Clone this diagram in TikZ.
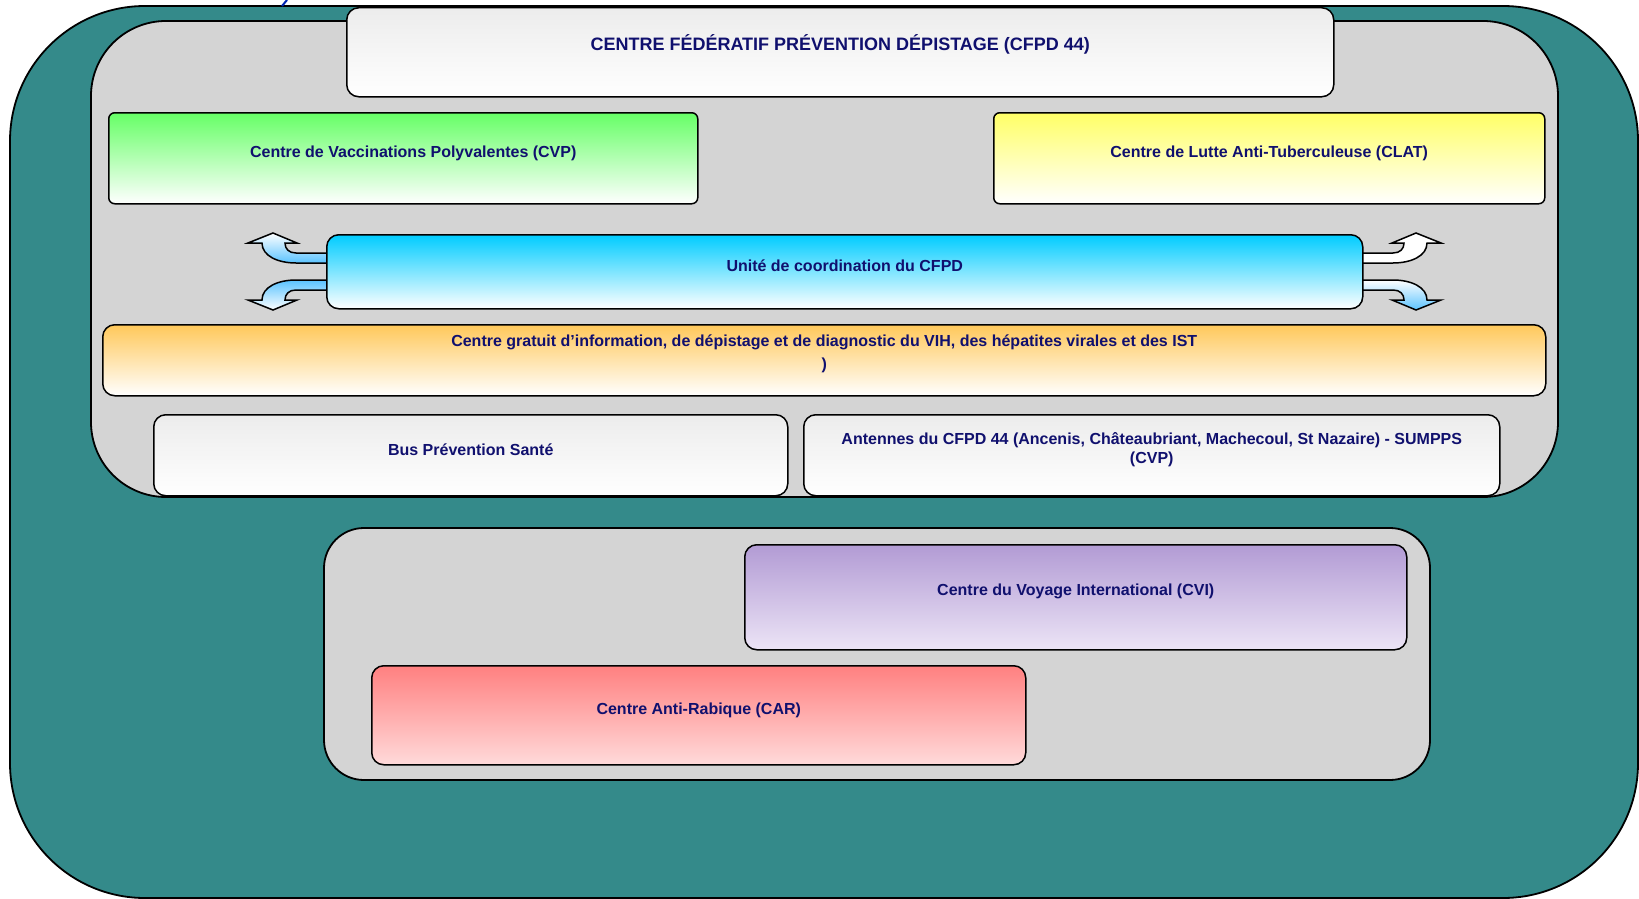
\documentclass[tikz,border=0pt]{standalone}
\usepackage{fontspec}
\setmainfont{Liberation Sans}
\definecolor{tealbg}{RGB}{52,138,138}
\definecolor{panelgray}{RGB}{212,212,212}
\definecolor{navytxt}{RGB}{16,16,110}
\definecolor{arrowblue}{RGB}{90,195,255}
\definecolor{cvpgreen}{RGB}{102,255,102}
\definecolor{clatyellow}{RGB}{255,255,102}
\definecolor{unitecyan}{RGB}{0,204,255}
\definecolor{cegorange}{RGB}{255,200,90}
\definecolor{cvipurple}{RGB}{178,155,212}
\definecolor{cvilight}{RGB}{236,228,246}
\definecolor{carred}{RGB}{255,128,128}
\definecolor{carlight}{RGB}{255,218,218}
\definecolor{boxgray}{RGB}{236,236,236}
\tikzset{
  box/.style={draw=black, line width=1.5pt, rounded corners=12pt, anchor=north west, inner sep=0pt},
  lbl/.style={text=navytxt, font=\bfseries\fontsize{16}{19}\selectfont, align=center, inner sep=0pt},
  bigpanel/.style={draw=black, line width=1.8pt},
  bent/.style={draw=black, line width=1.5pt},
}
\newcommand\bentpath{(-514,-18.5) -- (-548.5,-18.5) .. controls (-555.5,-18.5) and (-559.5,-22.5) .. (-559.5,-28.5) -- (-547.5,-28.5) -- (-571.5,-38.5) -- (-596.5,-28.5) -- (-582.5,-28.5) .. controls (-582.5,-15.5) and (-566.5,-8.5) .. (-548.5,-8.5) -- (-514,-8.5) -- cycle}
\begin{document}
\begin{tikzpicture}[x=1pt,y=-1pt]
\useasboundingbox (0,0) rectangle (1639,899);
\begin{scope}
\clip (0,0) rectangle (1639,899);
\draw[bigpanel, fill=tealbg, rounded corners=135pt] (10,6) rectangle (1638,898);
\draw[blue!80!cyan!70!black, line width=2pt] (282,6) -- (287,0);
\end{scope}
% panels
\draw[bigpanel, fill=panelgray, rounded corners=75pt] (91,21) rectangle (1558,497);
\draw[bigpanel, fill=panelgray, rounded corners=40pt] (324,528) rectangle (1430,780);
% title
\node[box, top color=boxgray, bottom color=white, minimum width=987pt, minimum height=89pt] (title) at (346,7) {};
\node[lbl, font=\bfseries\fontsize{18}{21}\selectfont] (title-t) at ([yshift=8pt]title.center) {CENTRE FÉDÉRATIF PRÉVENTION DÉPISTAGE (CFPD 44)};
% CVP
\node[box, rounded corners=6pt, top color=cvpgreen, bottom color=white, minimum width=589pt, minimum height=91pt] (cvp) at (108,112) {};
\node[lbl] (cvp-t) at ([yshift=5pt,xshift=10pt]cvp.center) {Centre de Vaccinations Polyvalentes (CVP)};
% CLAT
\node[box, rounded corners=6pt, top color=clatyellow, bottom color=white, minimum width=551pt, minimum height=91pt] (clat) at (993,112) {};
\node[lbl] (clat-t) at ([yshift=5pt]clat.center) {Centre de Lutte Anti-Tuberculeuse (CLAT)};
% bent arrows
\begin{scope}[shift={(844.5,271.5)}]
  \path[bent, top color=white, bottom color=arrowblue] \bentpath;
  \begin{scope}[yscale=-1]
    \path[bent, top color=arrowblue, bottom color=white] \bentpath;
  \end{scope}
  \begin{scope}[xscale=-1]
    \path[bent, top color=white, middle color=arrowblue!80, bottom color=white] \bentpath;
  \end{scope}
  \begin{scope}[xscale=-1, yscale=-1]
    \path[bent, top color=white, bottom color=arrowblue] \bentpath;
  \end{scope}
\end{scope}
% Unite
\node[box, top color=unitecyan, bottom color=white, minimum width=1036pt, minimum height=74pt] (unite) at (326,234) {};
\node[lbl] (unite-t) at ([yshift=6pt]unite.center) {Unité de coordination du CFPD};
% Centre gratuit
\node[box, top color=cegorange, bottom color=white, minimum width=1443pt, minimum height=71pt] (ceg) at (102,324) {};
\node[lbl, font=\bfseries\fontsize{16}{23}\selectfont] (ceg-t) at ([yshift=6pt]ceg.center) {Centre gratuit d’information, de dépistage et de diagnostic du VIH, des hépatites virales et des IST\\)};
% Bus
\node[box, top color=boxgray, bottom color=white, minimum width=634pt, minimum height=81pt] (bus) at (153,414) {};
\node[lbl] (bus-t) at ([yshift=6pt]bus.center) {Bus Prévention Santé};
% Antennes
\node[box, top color=boxgray, bottom color=white, minimum width=696pt, minimum height=81pt] (ant) at (803,414) {};
\node[lbl] (ant-t) at ([yshift=6pt]ant.center) {Antennes du CFPD 44 (Ancenis, Châteaubriant, Machecoul, St Nazaire) - SUMPPS\\(CVP)};
% CVI
\node[box, top color=cvipurple, bottom color=cvilight, minimum width=662pt, minimum height=105pt] (cvi) at (744,544) {};
\node[lbl] (cvi-t) at ([yshift=6pt]cvi.center) {Centre du Voyage International (CVI)};
% CAR
\node[box, top color=carred, bottom color=carlight, minimum width=654pt, minimum height=99pt] (car) at (371,665) {};
\node[lbl] (car-t) at ([yshift=5pt]car.center) {Centre Anti-Rabique (CAR)};
\end{tikzpicture}
\end{document}
